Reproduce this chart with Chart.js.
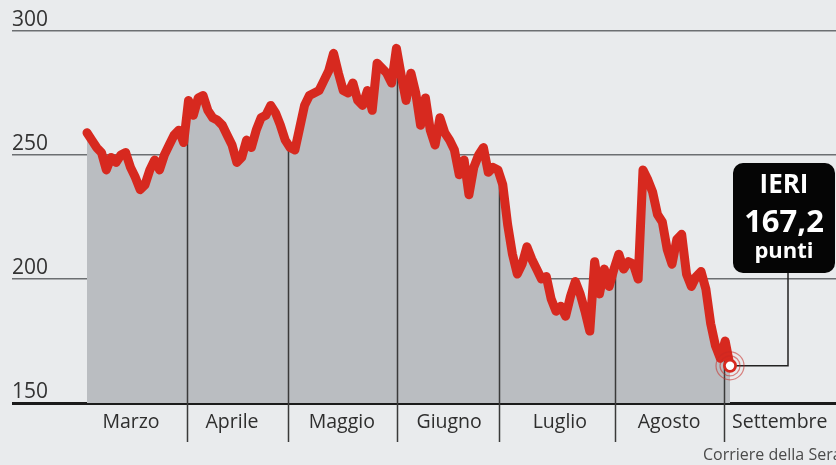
<!DOCTYPE html>
<html>
<head>
<meta charset="utf-8">
<script src="https://cdn.jsdelivr.net/npm/chart.js@4.4.1/dist/chart.umd.min.js"></script>
<style>
  html, body { margin: 0; padding: 0; background: #e9ebed; }
  #wrap { width: 836px; height: 465px; position: relative; }
</style>
</head>
<body>
<div id="wrap"><canvas id="c" width="836" height="465"></canvas></div>
<script>
// Daily index values (trading days, March -> early September)
const values = [
  259, 256, 253, 251, 244, 249, 247, 250, 251, 245,
  241, 236, 238, 244, 248, 244, 250, 254, 258, 260,
  255, 272, 266, 273, 274, 268, 265, 264, 262, 258,
  254, 247, 249, 256, 253, 260, 265, 266, 270, 267,
  262, 256, 253, 252, 261, 270, 274, 275, 276, 280,
  284, 291, 283, 276, 275, 279, 272, 270, 276, 268,
  287, 285, 283, 279, 293, 282, 272, 283, 275, 262,
  273, 260, 254, 265, 259, 256, 252, 242, 248, 234,
  245, 250, 253, 243, 245, 244, 238, 222, 210, 202,
  206, 213, 208, 204, 200, 201, 192, 187, 189, 185,
  193, 199, 194, 187, 179, 207, 194, 204, 197, 204,
  210, 204, 207, 206, 200, 244, 240, 235, 226, 223,
  212, 206, 216, 218, 202, 197, 201, 203, 196, 182,
  173, 168, 175, 165
];
const monthLabels = ['Marzo', 'Aprile', 'Maggio', 'Giugno', 'Luglio', 'Agosto', 'Settembre'];
const monthLabelPos = [9.1, 30.0, 52.7, 74.9, 97.8, 120.4, 143.3];   // in trading-day units
const monthBoundaries = [20.7, 41.6, 64.1, 85.2, 109.2, 131.7];     // in trading-day units
const yTicks = [150, 200, 250, 300];
const lastLabel = ['IERI', '167,2', 'punti'];
const sourceText = 'Corriere della Sera';

const points = values.map((v, i) => ({ x: i, y: v }));

const RED = '#d7291f';
const FONT = "'Open Sans', 'DejaVu Sans', sans-serif";

function valueAt(idx) {
  const i0 = Math.floor(idx), i1 = Math.min(values.length - 1, i0 + 1);
  const t = idx - i0;
  return values[i0] * (1 - t) + values[i1] * t;
}

const overlay = {
  id: 'overlay',
  afterDatasetDraw(chart, args) {
    if (args.index !== 0) return;
    const ctx = chart.ctx, xs = chart.scales.x, ys = chart.scales.y;
    ctx.save();
    ctx.strokeStyle = '#3a3a3a';
    ctx.lineWidth = 1.5;
    monthBoundaries.forEach(b => {
      const px = Math.round(xs.getPixelForValue(b)) + 0.5;
      const top = ys.getPixelForValue(valueAt(b));
      ctx.beginPath();
      ctx.moveTo(px, top);
      ctx.lineTo(px, 442);
      ctx.stroke();
    });
    ctx.restore();
  },
  afterDraw(chart) {
    const ctx = chart.ctx, xs = chart.scales.x, ys = chart.scales.y;
    const li = values.length - 1;
    const cx = xs.getPixelForValue(li), cy = ys.getPixelForValue(values[li]);
    ctx.save();
    // connector
    const bx = 733, by = 163, bw = 102, bh = 110;
    const midX = 788;
    ctx.strokeStyle = '#222';
    ctx.lineWidth = 1.5;
    ctx.beginPath();
    ctx.moveTo(midX, by + bh);
    ctx.lineTo(midX, cy);
    ctx.lineTo(cx + 6, cy);
    ctx.stroke();
    // target rings
    ctx.strokeStyle = 'rgba(200,40,35,0.55)';
    ctx.lineWidth = 1.2;
    [10, 14].forEach(r => { ctx.beginPath(); ctx.arc(cx, cy, r, 0, Math.PI * 2); ctx.stroke(); });
    ctx.beginPath(); ctx.arc(cx, cy, 7, 0, Math.PI * 2);
    ctx.fillStyle = RED; ctx.fill();
    ctx.beginPath(); ctx.arc(cx, cy, 4.2, 0, Math.PI * 2);
    ctx.fillStyle = '#ffffff'; ctx.fill();
    // box
    ctx.fillStyle = '#050505';
    ctx.beginPath();
    ctx.roundRect(bx, by, bw, bh, 10);
    ctx.fill();
    ctx.fillStyle = '#ffffff';
    ctx.textAlign = 'center';
    ctx.textBaseline = 'alphabetic';
    ctx.font = "bold 26px " + FONT;
    ctx.fillText(lastLabel[0], bx + bw / 2, 193);
    ctx.font = "bold 31px " + FONT;
    ctx.fillText(lastLabel[1], bx + bw / 2, 232);
    ctx.font = "bold 22px " + FONT;
    ctx.fillText(lastLabel[2], bx + bw / 2, 258);
    // source
    ctx.fillStyle = '#4a4a4a';
    ctx.textAlign = 'left';
    ctx.font = "16px " + FONT;
    ctx.fillText(sourceText, 703, 460);
    ctx.restore();
  }
};

new Chart(document.getElementById('c'), {
  type: 'line',
  data: {
    datasets: [
      {
        data: points,
        borderWidth: 0,
        pointRadius: 0,
        fill: 'start',
        backgroundColor: '#babdc1',
        order: 2
      },
      {
        data: points,
        borderColor: RED,
        borderWidth: 9,
        borderJoinStyle: 'round',
        borderCapStyle: 'round',
        pointRadius: 0,
        fill: false,
        tension: 0,
        order: 1
      }
    ]
  },
  options: {
    responsive: false,
    animation: false,
    events: [],
    layout: { padding: { top: 31, left: 12, right: 0, bottom: 30.6 } },
    plugins: { legend: { display: false }, tooltip: { enabled: false } },
    scales: {
      x: {
        type: 'linear',
        min: -15.51,
        max: 154.92,
        grid: { display: false },
        border: { display: false },
        afterBuildTicks: s => { s.ticks = monthLabelPos.map(v => ({ value: v })); },
        ticks: {
          autoSkip: false,
          maxRotation: 0,
          padding: 0,
          color: '#2e2e2e',
          font: { family: FONT, size: 19.5 },
          callback: (v, i) => monthLabels[i]
        }
      },
      y: {
        min: 150,
        max: 300,
        afterBuildTicks: s => { s.ticks = yTicks.map(v => ({ value: v })); },
        grid: {
          drawTicks: false,
          color: c => (c.tick && c.tick.value === 150) ? '#1b1b1b' : '#6c6f72',
          lineWidth: c => (c.tick && c.tick.value === 150) ? 3 : 1.5
        },
        border: { display: false },
        ticks: {
          mirror: true,
          padding: 0,
          labelOffset: -11,
          color: '#333',
          font: { family: FONT, size: 21 },
          callback: v => String(v)
        }
      }
    }
  },
  plugins: [overlay]
});
</script>
</body>
</html>
